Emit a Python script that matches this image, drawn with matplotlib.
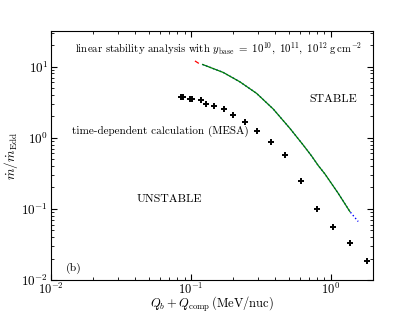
import numpy as np
import matplotlib
matplotlib.use('Agg')
import matplotlib.pyplot as plt

plt.rcParams['font.family'] = 'serif'
plt.rcParams['font.serif'] = ['cmr10', 'DejaVu Serif']
plt.rcParams['mathtext.fontset'] = 'cm'
plt.rcParams['axes.unicode_minus'] = False
plt.rcParams['axes.formatter.use_mathtext'] = True

# MESA time-dependent calculation points
mesa_q = [0.0855, 0.0883, 0.099, 0.1026, 0.1185, 0.1286, 0.145, 0.171, 0.2006,
          0.244, 0.296, 0.372, 0.472, 0.608, 0.791, 1.04, 1.36, 1.81]
mesa_mdot = [3.69, 3.69, 3.52, 3.52, 3.35, 2.94, 2.76, 2.50, 2.08,
             1.66, 1.24, 0.879, 0.566, 0.249, 0.099, 0.0554, 0.033, 0.0185]

# linear stability boundary: y_base = 1e10 (red), 1e11 (green), 1e12 (blue)
red_q = [0.1068, 0.1141]
red_mdot = [12.0, 11.05]
green_q = [0.1212, 0.1703, 0.2239, 0.2946, 0.3874, 0.5093, 0.634, 0.728,
           0.811, 0.906, 1.127, 1.367]
green_mdot = [10.7, 8.26, 6.10, 4.20, 2.53, 1.355, 0.790, 0.554,
              0.408, 0.310, 0.166, 0.0916]
blue_q = green_q + [1.567]
blue_mdot = green_mdot + [0.0664]

fig = plt.figure(figsize=(4.15, 3.12), dpi=100)
ax = fig.add_axes([51/415, 1 - 280/312, 322/415, 249/312])

ax.plot(blue_q, blue_mdot, color='b', ls=':', lw=1.0)
ax.plot(green_q, green_mdot, color='g', ls='-', lw=0.9)
ax.plot(red_q, red_mdot, color='r', ls='--', lw=0.9)
ax.plot(mesa_q, mesa_mdot, 'k+', ms=4.2, mew=1.4)

ax.set_xscale('log')
ax.set_yscale('log')
ax.set_xlim(0.01, 2.0)
ax.set_ylim(0.01, 10**1.5)

ax.tick_params(which='both', direction='in', top=True, right=True, labelsize=9.5)
ax.tick_params(which='major', length=4, pad=2)
ax.tick_params(axis='x', which='major', pad=1, labelsize=9)
ax.tick_params(which='minor', length=2)

ax.set_xlabel(r'$Q_b + Q_{\rm comp}\,({\rm MeV/nuc})$', fontsize=9)
ax.set_ylabel(r'$\dot m/\dot m_{\rm Edd}$', fontsize=9.5)
ax.xaxis.set_label_coords(0.5, -0.062)
ax.yaxis.set_label_coords(-0.095, 0.5)

ax.text(0.522, 0.928, r'linear stability analysis with $y_{\rm base}\ =\ 10^{10},\ 10^{11},\ 10^{12}\ {\rm g\,cm^{-2}}$',
        transform=ax.transAxes, ha='center', va='center', fontsize=7.8)
ax.text(0.875, 0.724, 'STABLE', transform=ax.transAxes, ha='center', va='center', fontsize=8.5)
ax.text(0.339, 0.598, 'time-dependent calculation (MESA)', transform=ax.transAxes,
        ha='center', va='center', fontsize=8)
ax.text(0.367, 0.326, 'UNSTABLE', transform=ax.transAxes, ha='center', va='center', fontsize=8.5)
ax.text(0.045, 0.048, '(b)', transform=ax.transAxes, ha='left', va='center', fontsize=8.5)

fig.savefig('out.png', dpi=100)
